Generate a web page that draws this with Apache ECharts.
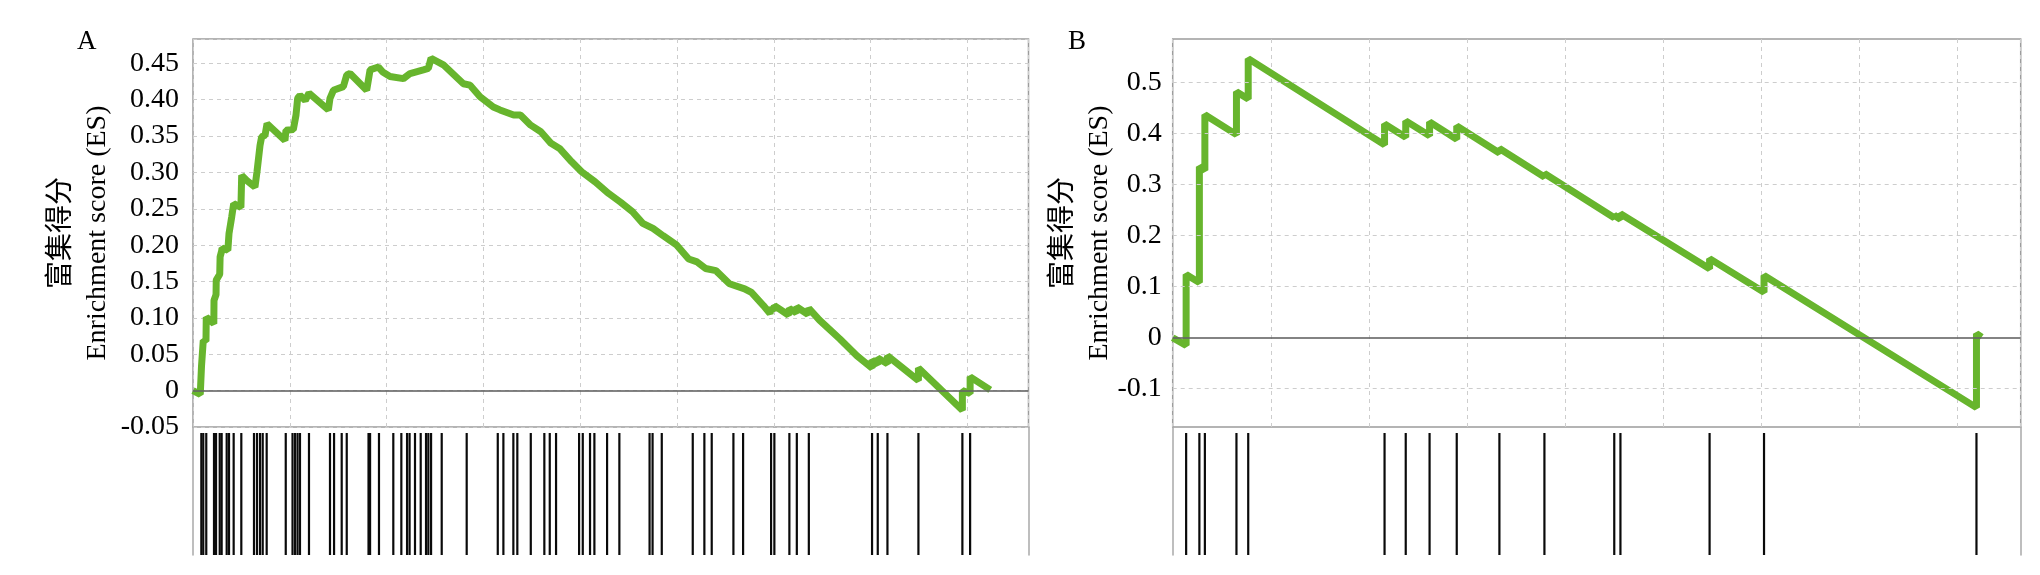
<!DOCTYPE html>
<html>
<head>
<meta charset="utf-8">
<script src="https://cdn.jsdelivr.net/npm/echarts@6/dist/echarts.min.js"></script>
<style>
html,body{margin:0;padding:0;background:#fff;}
#chart{width:2040px;height:575px;}
</style>
</head>
<body>
<div id="chart"></div>
<script>
// ---------- DATA ----------
const panelLabels = ['A', 'B'];
const yAxisName = '富集得分\nEnrichment score (ES)';
const yTicksA = [-0.05, 0, 0.05, 0.10, 0.15, 0.20, 0.25, 0.30, 0.35, 0.40, 0.45];
const yTicksB = [-0.1, 0, 0.1, 0.2, 0.3, 0.4, 0.5];
const xMaxA = 8630;
const xMaxB = 8646;

// Panel A running enrichment score (rank, ES)
const esRankA = [0,75,88,88,106,106,134,137,215,217,238,240,276,280,296,300,360,372,400,420,
  495,503,555,640,661,692,709,744,765,950,960,1036,1064,1081,1105,1160,1198,1398,1415,1450,
  1553,1588,1622,1794,1829,1915,1960,2035,2173,2242,2379,2431,2459,2586,2793,2862,2965,3102,3171,3312,
  3382,3488,3593,3698,3786,3909,4014,4154,4294,4417,4540,4646,4751,4856,4997,5120,5207,5295,5401,5541,
  5698,5768,5892,5960,5971,6000,6005,6150,6160,6230,6237,6350,6361,6471,6682,6857,7014,7014,7073,7073,
  7173,7173,7493,7493,7947,7947,8027,8027,8235];
const esScoreA = [0.000,-0.005,-0.005,0.034,0.034,0.069,0.068,0.101,0.092,0.124,0.132,0.152,0.160,0.184,0.192,0.196,0.193,0.216,0.239,0.257,
  0.252,0.296,0.289,0.280,0.301,0.337,0.349,0.351,0.367,0.344,0.358,0.359,0.379,0.402,0.406,0.399,0.409,0.386,0.402,0.413,
  0.418,0.434,0.436,0.413,0.441,0.445,0.438,0.432,0.429,0.436,0.441,0.443,0.457,0.448,0.422,0.420,0.404,0.390,0.386,0.379,
  0.379,0.365,0.356,0.340,0.333,0.315,0.301,0.287,0.271,0.259,0.246,0.230,0.223,0.213,0.200,0.181,0.177,0.168,0.165,0.147,
  0.140,0.135,0.117,0.106,0.114,0.110,0.117,0.104,0.113,0.107,0.115,0.105,0.113,0.097,0.071,0.048,0.031,0.042,0.036,0.045,
  0.037,0.048,0.014,0.031,-0.027,0.000,-0.004,0.019,0.001];

// Panel A hit positions (ranks of gene-set members)
const hitsA = [86,106,137,217,238,276,296,348,372,420,499,630,661,692,720,761,958,1028,1054,1080,
  1105,1198,1415,1457,1536,1588,1813,1829,1921,2069,2152,2211,2237,2293,2352,2407,2431,2459,2569,2827,
  3148,3206,3309,3350,3489,3629,3685,3750,3988,4026,4101,4146,4277,4404,4716,4747,4842,5162,5282,5358,
  5582,5682,5971,6005,6160,6237,6361,7014,7073,7173,7493,7947,8027];

// Panel B running enrichment score (rank, ES)
const esRankB = [0,137,137,272,272,328,328,650,650,770,770,2160,2160,2376,2376,2619,2619,2896,2896,3331,
  3331,3790,3790,4502,4502,4565,4565,5474,5474,6029,6029,8195,8195,8248];
const esScoreB = [0.000,-0.015,0.124,0.108,0.335,0.328,0.437,0.398,0.482,0.468,0.547,0.378,0.419,0.393,0.425,0.396,0.423,0.389,0.415,0.362,
  0.371,0.315,0.322,0.235,0.240,0.232,0.243,0.135,0.155,0.089,0.122,-0.137,0.008,0.001];

// Panel B hit positions
const hitsB = [137,272,328,650,770,2160,2376,2619,2896,3331,3790,4502,4565,5474,6029,8195];

// ---------- STYLE ----------
const serif = '"Liberation Serif", "Times New Roman", "Noto Sans CJK SC", serif';
const green = '#67b52d';
const gridLineStyle = { color: '#cdcdcd', width: 1, type: [4, 4] };
const hitTop = 0.953;

function pairs(xs, ys) { return xs.map((x, i) => [x, ys[i]]); }
function fmt(ticks, digits) {
  return function (v) {
    for (const t of ticks) {
      if (Math.abs(v - t) < 1e-6) return t === 0 ? '0' : t.toFixed(digits);
    }
    return '';
  };
}
function esX(grid, max) {
  return { type: 'value', gridIndex: grid, min: 0, max: max, interval: 1000,
    axisLine: { show: false }, axisTick: { show: false }, axisLabel: { show: false },
    splitLine: { show: true, lineStyle: gridLineStyle } };
}
function hitX(grid, max) {
  return { type: 'value', gridIndex: grid, min: 0, max: max,
    axisLine: { show: false }, axisTick: { show: false }, axisLabel: { show: false },
    splitLine: { show: false } };
}
function hitY(grid, pos) {
  return { type: 'value', gridIndex: grid, min: 0, max: 1, position: pos,
    axisLine: { show: true, onZero: false, lineStyle: { color: '#a8a8a8', width: 1.5 } },
    axisTick: { show: false }, axisLabel: { show: false }, splitLine: { show: false } };
}
function hitSeries(xi, yi, hits) {
  return {
    type: 'custom', xAxisIndex: xi, yAxisIndex: yi, silent: true,
    data: hits.map(h => [h]),
    encode: { x: 0 },
    renderItem: function (params, api) {
      const x = api.value(0);
      const p0 = api.coord([x, 0]);
      const p1 = api.coord([x, hitTop]);
      return { type: 'line', shape: { x1: p0[0], y1: p0[1], x2: p1[0], y2: p1[1] },
        style: { stroke: '#0a0a0a', lineWidth: 2.2 } };
    }
  };
}
const zeroMark = {
  silent: true, symbol: ['none', 'none'], label: { show: false },
  lineStyle: { color: 'rgba(100,100,100,0.8)', width: 2, type: 'solid' },
  emphasis: { disabled: true },
  data: [{ yAxis: 0 }]
};

const option = {
  animation: false,
  backgroundColor: '#ffffff',
  graphic: [
    { type: 'text', x: 77, y: 42, style: { text: panelLabels[0], font: '27px ' + serif, fill: '#000', verticalAlign: 'middle', align: 'left' } },
    { type: 'text', x: 1068, y: 42, style: { text: panelLabels[1], font: '27px ' + serif, fill: '#000', verticalAlign: 'middle', align: 'left' } }
  ],
  grid: [
    { left: 193, top: 39, width: 835.5, height: 388, show: true, borderColor: '#9c9c9c', borderWidth: 1.5, backgroundColor: 'transparent' },
    { left: 193, top: 427, width: 835.5, height: 128 },
    { left: 1172.7, top: 39, width: 848, height: 388, show: true, borderColor: '#9c9c9c', borderWidth: 1.5, backgroundColor: 'transparent' },
    { left: 1172.7, top: 427, width: 848, height: 128 }
  ],
  xAxis: [esX(0, xMaxA), hitX(1, xMaxA), esX(2, xMaxB), hitX(3, xMaxB)],
  yAxis: [
    { type: 'value', gridIndex: 0, min: -0.05, max: 0.4835, interval: 0.05,
      axisLine: { show: false }, axisTick: { show: false },
      axisLabel: { formatter: fmt(yTicksA, 2), fontFamily: serif, fontSize: 28, color: '#000', margin: 14 },
      splitLine: { show: true, lineStyle: gridLineStyle },
      name: yAxisName, nameLocation: 'middle', nameRotate: 90, nameGap: 77, nameMoveOverlap: false,
      nameTextStyle: { fontFamily: serif, fontSize: 28, color: '#000', lineHeight: 36 } },
    hitY(1, 'left'), hitY(1, 'right'),
    { type: 'value', gridIndex: 2, min: -0.175, max: 0.5855, interval: 0.025,
      axisLine: { show: false }, axisTick: { show: false },
      axisLabel: { formatter: fmt(yTicksB, 1), fontFamily: serif, fontSize: 28, color: '#000', margin: 11 },
      splitLine: { show: false },
      name: yAxisName, nameLocation: 'middle', nameRotate: 90, nameGap: 55, nameMoveOverlap: false,
      nameTextStyle: { fontFamily: serif, fontSize: 28, color: '#000', lineHeight: 36 } },
    hitY(3, 'left'), hitY(3, 'right')
  ],
  series: [
    // gridlines of panel B (values from yTicksB, except zero)
    { type: 'line', xAxisIndex: 2, yAxisIndex: 3, z: 1, silent: true, showSymbol: false,
      data: [[0, 0]], lineStyle: { opacity: 0 },
      markLine: { silent: true, symbol: ['none', 'none'], label: { show: false },
        lineStyle: gridLineStyle, emphasis: { disabled: true },
        data: yTicksB.filter(v => v !== 0).map(v => ({ yAxis: v })) } },
    { type: 'line', xAxisIndex: 0, yAxisIndex: 0, z: 3, showSymbol: false, silent: true,
      data: pairs(esRankA, esScoreA),
      lineStyle: { color: green, width: 7, join: 'bevel' },
      markLine: zeroMark },
    hitSeries(1, 1, hitsA),
    { type: 'line', xAxisIndex: 2, yAxisIndex: 3, z: 3, showSymbol: false, silent: true,
      data: pairs(esRankB, esScoreB),
      lineStyle: { color: green, width: 7, join: 'bevel' },
      markLine: zeroMark },
    hitSeries(3, 4, hitsB)
  ]
};

const chart = echarts.init(document.getElementById('chart'), null, { renderer: 'canvas' });
chart.setOption(option);
</script>
</body>
</html>
